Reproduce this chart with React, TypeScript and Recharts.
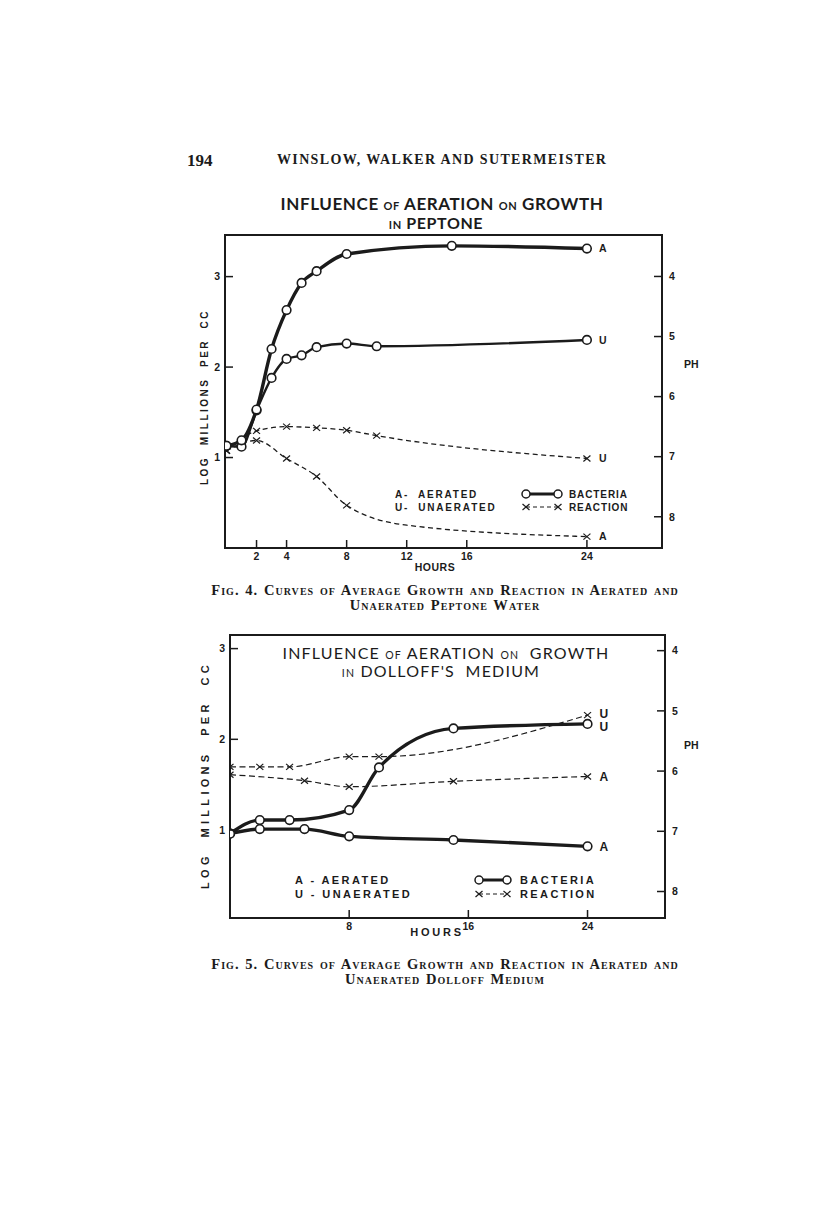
import React from 'react';
import { LineChart, Line, XAxis, YAxis, ReferenceArea, Legend } from 'recharts';

// ---- Fig. 4, peptone water ----
const PEP_BAC_A_HOURS = [0, 1, 2, 3, 4, 5, 6, 8, 15, 24];
const PEP_BAC_A_LOG = [1.13, 1.19, 1.53, 2.2, 2.63, 2.93, 3.06, 3.25, 3.34, 3.31];
const PEP_BAC_U_HOURS = [0, 1, 2, 3, 4, 5, 6, 8, 10, 24];
const PEP_BAC_U_LOG = [1.13, 1.12, 1.52, 1.88, 2.09, 2.13, 2.22, 2.26, 2.23, 2.3];
const PEP_REA_U_HOURS = [0, 2, 4, 6, 8, 10, 24];
const PEP_REA_U_PH = [6.9, 6.57, 6.5, 6.52, 6.56, 6.65, 7.03];
const PEP_REA_A_HOURS = [0, 2, 4, 6, 8, 12, 24];
const PEP_REA_A_PH = [6.9, 6.73, 7.03, 7.33, 7.81, 8.14, 8.33];
const PEP_HOUR_TICKS = [2, 4, 8, 12, 16, 24];

// ---- Fig. 5, Dolloff medium ----
const DOL_BAC_U_HOURS = [0, 2, 4, 8, 10, 15, 24];
const DOL_BAC_U_LOG = [0.96, 1.11, 1.11, 1.22, 1.69, 2.12, 2.17];
const DOL_BAC_A_HOURS = [0, 2, 5, 8, 15, 24];
const DOL_BAC_A_LOG = [0.96, 1.01, 1.01, 0.93, 0.89, 0.82];
const DOL_REA_U_HOURS = [0, 2, 4, 8, 10, 24];
const DOL_REA_U_PH = [5.93, 5.93, 5.93, 5.76, 5.76, 5.07];
const DOL_REA_A_HOURS = [0, 5, 8, 15, 24];
const DOL_REA_A_PH = [6.06, 6.16, 6.26, 6.17, 6.09];
const DOL_HOUR_TICKS = [8, 16, 24];

const LOG_TICKS = [1, 2, 3];
const PH_TICKS = [4, 5, 6, 7, 8];

const INK = '#1b1b1b';
const SANS = '"Liberation Sans", Arial, sans-serif';
const GEO = 'Lato, "Open Sans", sans-serif';
const SERIF = '"Liberation Serif", "DejaVu Serif", serif';

const rows = (hours: number[], vals: number[]) => hours.map((hour, i) => ({ hour, v: vals[i] }));

const makeDot = (kind: 'circle' | 'cross', tag: string, count: number, tagSize: number, tagDy = 0, hide: number[] = []) =>
  (p: any) => {
    const { cx, cy, index } = p;
    if (cx == null || cy == null) return <g key={`d-${index}`} />;
    const last = index === count - 1;
    return (
      <g key={`d-${index}`}>
        {!hide.includes(index) && kind === 'circle' && (
          <circle cx={cx} cy={cy} r={4.3} fill="#fff" stroke={INK} strokeWidth={1.6} />
        )}
        {!hide.includes(index) && kind === 'cross' && (
          <g stroke={INK} strokeWidth={1.2}>
            <line x1={cx - 3.5} y1={cy - 3} x2={cx + 3.5} y2={cy + 3} />
            <line x1={cx - 3.5} y1={cy + 3} x2={cx + 3.5} y2={cy - 3} />
          </g>
        )}
        {last && (
          <text x={cx + 12} y={cy + tagDy} dy={tagSize * 0.36} fontSize={tagSize} fontWeight={700}
            fontFamily={SANS} fill={INK}>{tag}</text>
        )}
      </g>
    );
  };

const tickFont = { fontSize: 10.5, fontWeight: 700, fontFamily: SANS, fill: INK };

const LeftTick = (p: any) => (
  <g>
    <line x1={p.x} y1={p.y} x2={p.x + 8} y2={p.y} stroke={INK} strokeWidth={1.5} />
    <text x={p.x - 5} y={p.y} dy={3.8} textAnchor="end" {...tickFont}>{p.payload.value}</text>
  </g>
);
const RightTick = (p: any) => (
  <g>
    <line x1={p.x - 8} y1={p.y} x2={p.x} y2={p.y} stroke={INK} strokeWidth={1.5} />
    <text x={p.x + 7} y={p.y} dy={3.8} textAnchor="start" {...tickFont}>{p.payload.value}</text>
  </g>
);
const BottomTick = (p: any) => (
  <g>
    <line x1={p.x} y1={p.y - 8} x2={p.x} y2={p.y} stroke={INK} strokeWidth={1.5} />
    <text x={p.x} y={p.y + 12} textAnchor="middle" {...tickFont}>{p.payload.value}</text>
  </g>
);

const LegendBox = ({ w, gap, size, spacing, leftSpacing, sx1, sx2, labelX, aText, uText }: any) => {
  const f = { fontSize: size, fontWeight: 700, fontFamily: SANS, fill: INK, letterSpacing: spacing };
  const fl = { ...f, letterSpacing: leftSpacing };
  return (
    <svg width={w} height={30} style={{ overflow: 'visible' }}>
      <text x={0} y={11} {...fl} style={{ whiteSpace: 'pre' }}>{aText}</text>
      <text x={0} y={11 + gap} {...fl} style={{ whiteSpace: 'pre' }}>{uText}</text>
      <line x1={sx1} y1={7} x2={sx2} y2={7} stroke={INK} strokeWidth={3} />
      <circle cx={sx1} cy={7} r={4} fill="#fff" stroke={INK} strokeWidth={1.5} />
      <circle cx={sx2} cy={7} r={4} fill="#fff" stroke={INK} strokeWidth={1.5} />
      <line x1={sx1} y1={7 + gap} x2={sx2} y2={7 + gap} stroke={INK} strokeWidth={1.2} strokeDasharray="4 3" />
      <g stroke={INK} strokeWidth={1.2}>
        <line x1={sx1 - 3.5} y1={4 + gap} x2={sx1 + 3.5} y2={10 + gap} />
        <line x1={sx1 - 3.5} y1={10 + gap} x2={sx1 + 3.5} y2={4 + gap} />
        <line x1={sx2 - 3.5} y1={4 + gap} x2={sx2 + 3.5} y2={10 + gap} />
        <line x1={sx2 - 3.5} y1={10 + gap} x2={sx2 + 3.5} y2={4 + gap} />
      </g>
      <text x={labelX} y={11} {...f}>BACTERIA</text>
      <text x={labelX} y={11 + gap} {...f}>REACTION</text>
    </svg>
  );
};

const abs = (x: number, y: number, style: React.CSSProperties = {}): React.CSSProperties => ({
  position: 'absolute', left: x, top: y, lineHeight: 1, whiteSpace: 'nowrap', color: INK, ...style,
});

function PeptoneChart() {
  const bacA = rows(PEP_BAC_A_HOURS, PEP_BAC_A_LOG);
  const bacU = rows(PEP_BAC_U_HOURS, PEP_BAC_U_LOG);
  const reaU = rows(PEP_REA_U_HOURS, PEP_REA_U_PH);
  const reaA = rows(PEP_REA_A_HOURS, PEP_REA_A_PH);
  return (
    <div style={{ position: 'absolute', left: 180, top: 230 }}>
      <LineChart width={540} height={350} margin={{ top: 5, right: 57, bottom: 31, left: 44 }}>
        <XAxis xAxisId="h" dataKey="hour" type="number" domain={[-0.1, 29]} ticks={PEP_HOUR_TICKS}
          allowDataOverflow height={1} axisLine={false} tickLine={false} tickSize={0} tickMargin={0} tick={BottomTick} />
        <YAxis yAxisId="log" domain={[0, 3.46]} ticks={LOG_TICKS} allowDataOverflow width={1}
          axisLine={false} tickLine={false} tickSize={0} tickMargin={0} tick={LeftTick} />
        <YAxis yAxisId="ph" orientation="right" reversed domain={[3.31, 8.52]} ticks={PH_TICKS} allowDataOverflow
          width={1} axisLine={false} tickLine={false} tickSize={0} tickMargin={0} tick={RightTick} />
        <ReferenceArea xAxisId="h" yAxisId="log" x1={-0.1} x2={29} y1={0} y2={3.46} fill="none" stroke={INK} strokeWidth={2} />
        <Legend layout="horizontal" verticalAlign="middle" align="center"
          wrapperStyle={{ left: 215, top: 257, width: 260, height: 30 }}
          content={() => <LegendBox w={260} gap={13} size={10} spacing={0.9} leftSpacing={1.8}
            sx1={131} sx2={163} labelX={174} aText={'A-  AERATED'} uText={'U-  UNAERATED'} />} />
        <Line xAxisId="h" yAxisId="ph" data={reaU} dataKey="v" type="monotone" stroke={INK} strokeWidth={1.3}
          strokeDasharray="5 3.5" dot={makeDot('cross', 'U', reaU.length, 10.5)} isAnimationActive={false} />
        <Line xAxisId="h" yAxisId="ph" data={reaA} dataKey="v" type="monotone" stroke={INK} strokeWidth={1.3}
          strokeDasharray="5 3.5" dot={makeDot('cross', 'A', reaA.length, 10.5, 0, [5])} isAnimationActive={false} />
        <Line xAxisId="h" yAxisId="log" data={bacU} dataKey="v" type="monotone" stroke={INK} strokeWidth={2.4}
          dot={makeDot('circle', 'U', bacU.length, 10.5)} isAnimationActive={false} />
        <Line xAxisId="h" yAxisId="log" data={bacA} dataKey="v" type="monotone" stroke={INK} strokeWidth={3.4}
          dot={makeDot('circle', 'A', bacA.length, 10.5)} isAnimationActive={false} />
      </LineChart>
    </div>
  );
}

function DolloffChart() {
  const bacU = rows(DOL_BAC_U_HOURS, DOL_BAC_U_LOG);
  const bacA = rows(DOL_BAC_A_HOURS, DOL_BAC_A_LOG);
  const reaU = rows(DOL_REA_U_HOURS, DOL_REA_U_PH);
  const reaA = rows(DOL_REA_A_HOURS, DOL_REA_A_PH);
  return (
    <div style={{ position: 'absolute', left: 180, top: 625 }}>
      <LineChart width={540} height={320} margin={{ top: 10, right: 54, bottom: 26, left: 49 }}>
        <XAxis xAxisId="h" dataKey="hour" type="number" domain={[0, 29.2]} ticks={DOL_HOUR_TICKS}
          allowDataOverflow height={1} axisLine={false} tickLine={false} tickSize={0} tickMargin={0} tick={BottomTick} />
        <YAxis yAxisId="log" domain={[0.03, 3.15]} ticks={LOG_TICKS} allowDataOverflow width={1}
          axisLine={false} tickLine={false} tickSize={0} tickMargin={0} tick={LeftTick} />
        <YAxis yAxisId="ph" orientation="right" reversed domain={[3.74, 8.44]} ticks={PH_TICKS} allowDataOverflow
          width={1} axisLine={false} tickLine={false} tickSize={0} tickMargin={0} tick={RightTick} />
        <ReferenceArea xAxisId="h" yAxisId="log" x1={0} x2={29.2} y1={0.03} y2={3.15} fill="none" stroke={INK} strokeWidth={2} />
        <Legend layout="horizontal" verticalAlign="middle" align="center"
          wrapperStyle={{ left: 115, top: 248, width: 310, height: 30 }}
          content={() => <LegendBox w={310} gap={14} size={11} spacing={2.4} leftSpacing={2.4}
            sx1={184} sx2={212} labelX={225} aText={'A - AERATED'} uText={'U - UNAERATED'} />} />
        <Line xAxisId="h" yAxisId="ph" data={reaU} dataKey="v" type="monotone" stroke={INK} strokeWidth={1.2}
          strokeDasharray="6 3.5" dot={makeDot('cross', 'U', reaU.length, 12, -1)} isAnimationActive={false} />
        <Line xAxisId="h" yAxisId="ph" data={reaA} dataKey="v" type="monotone" stroke={INK} strokeWidth={1.2}
          strokeDasharray="6 3.5" dot={makeDot('cross', 'A', reaA.length, 12)} isAnimationActive={false} />
        <Line xAxisId="h" yAxisId="log" data={bacU} dataKey="v" type="monotone" stroke={INK} strokeWidth={3.4}
          dot={makeDot('circle', 'U', bacU.length, 12, 3)} isAnimationActive={false} />
        <Line xAxisId="h" yAxisId="log" data={bacA} dataKey="v" type="monotone" stroke={INK} strokeWidth={3.4}
          dot={makeDot('circle', 'A', bacA.length, 12)} isAnimationActive={false} />
      </LineChart>
    </div>
  );
}

const capStyle: React.CSSProperties = {
  fontFamily: SERIF, fontWeight: 700, fontVariant: 'small-caps', fontSize: 14.5, letterSpacing: 1.05,
  wordSpacing: 1, transform: 'translateX(-50%)', textAlign: 'center', lineHeight: '15px',
};

export default function App() {
  return (
    <div style={{ position: 'absolute', left: 0, top: 0, width: 816, height: 1220, background: '#fff', overflow: 'hidden' }}>
      <div style={abs(187, 152, { fontFamily: SERIF, fontWeight: 700, fontSize: 17 })}>194</div>
      <div style={abs(277, 153, { fontFamily: SERIF, fontWeight: 700, fontSize: 14, letterSpacing: 1.35 })}>
        WINSLOW, WALKER AND SUTERMEISTER
      </div>

      <div style={abs(442, 195, { fontFamily: GEO, fontWeight: 700, fontSize: 17, letterSpacing: 0.6, transform: 'translateX(-50%)' })}>
        INFLUENCE <span style={{ fontSize: 11 }}>OF</span> AERATION <span style={{ fontSize: 11 }}>ON</span> GROWTH
      </div>
      <div style={abs(436, 215, { fontFamily: GEO, fontWeight: 700, fontSize: 16, letterSpacing: 0.6, transform: 'translateX(-50%)' })}>
        <span style={{ fontSize: 11 }}>IN</span> PEPTONE
      </div>

      <div style={abs(205, 397, { fontFamily: SANS, fontWeight: 700, fontSize: 10, letterSpacing: 2.5, transform: 'translate(-50%, -50%) rotate(-90deg)' })}>
        LOG&nbsp; MILLIONS&nbsp; PER&nbsp; CC
      </div>
      <div style={abs(684, 359, { fontFamily: SANS, fontWeight: 700, fontSize: 10.5 })}>PH</div>
      <div style={abs(435, 562, { fontFamily: SANS, fontWeight: 700, fontSize: 10.5, letterSpacing: 0.5, transform: 'translateX(-50%)' })}>HOURS</div>

      <PeptoneChart />

      <div style={abs(445, 583, capStyle)}>
        Fig. 4. Curves of Average Growth and Reaction in Aerated and<br />Unaerated Peptone Water
      </div>

      <DolloffChart />

      <div style={abs(446, 645, { fontFamily: GEO, fontWeight: 400, fontSize: 16, letterSpacing: 1.2, transform: 'translateX(-50%)' })}>
        INFLUENCE <span style={{ fontSize: 10.5 }}>OF</span> AERATION <span style={{ fontSize: 10.5 }}>ON</span>&nbsp; GROWTH
      </div>
      <div style={abs(441, 663, { fontFamily: GEO, fontWeight: 400, fontSize: 16, letterSpacing: 1.2, transform: 'translateX(-50%)' })}>
        <span style={{ fontSize: 10.5 }}>IN</span> DOLLOFF'S&nbsp; MEDIUM
      </div>

      <div style={abs(205, 775, { fontFamily: SANS, fontWeight: 700, fontSize: 11, letterSpacing: 4.3, transform: 'translate(-50%, -50%) rotate(-90deg)' })}>
        LOG&nbsp; MILLIONS&nbsp; PER&nbsp; CC
      </div>
      <div style={abs(684, 740, { fontFamily: SANS, fontWeight: 700, fontSize: 10.5 })}>PH</div>
      <div style={abs(437, 927, { fontFamily: SANS, fontWeight: 700, fontSize: 11, letterSpacing: 2.8, transform: 'translateX(-50%)' })}>HOURS</div>

      <div style={abs(445, 957, capStyle)}>
        Fig. 5. Curves of Average Growth and Reaction in Aerated and<br />Unaerated Dolloff Medium
      </div>
    </div>
  );
}
